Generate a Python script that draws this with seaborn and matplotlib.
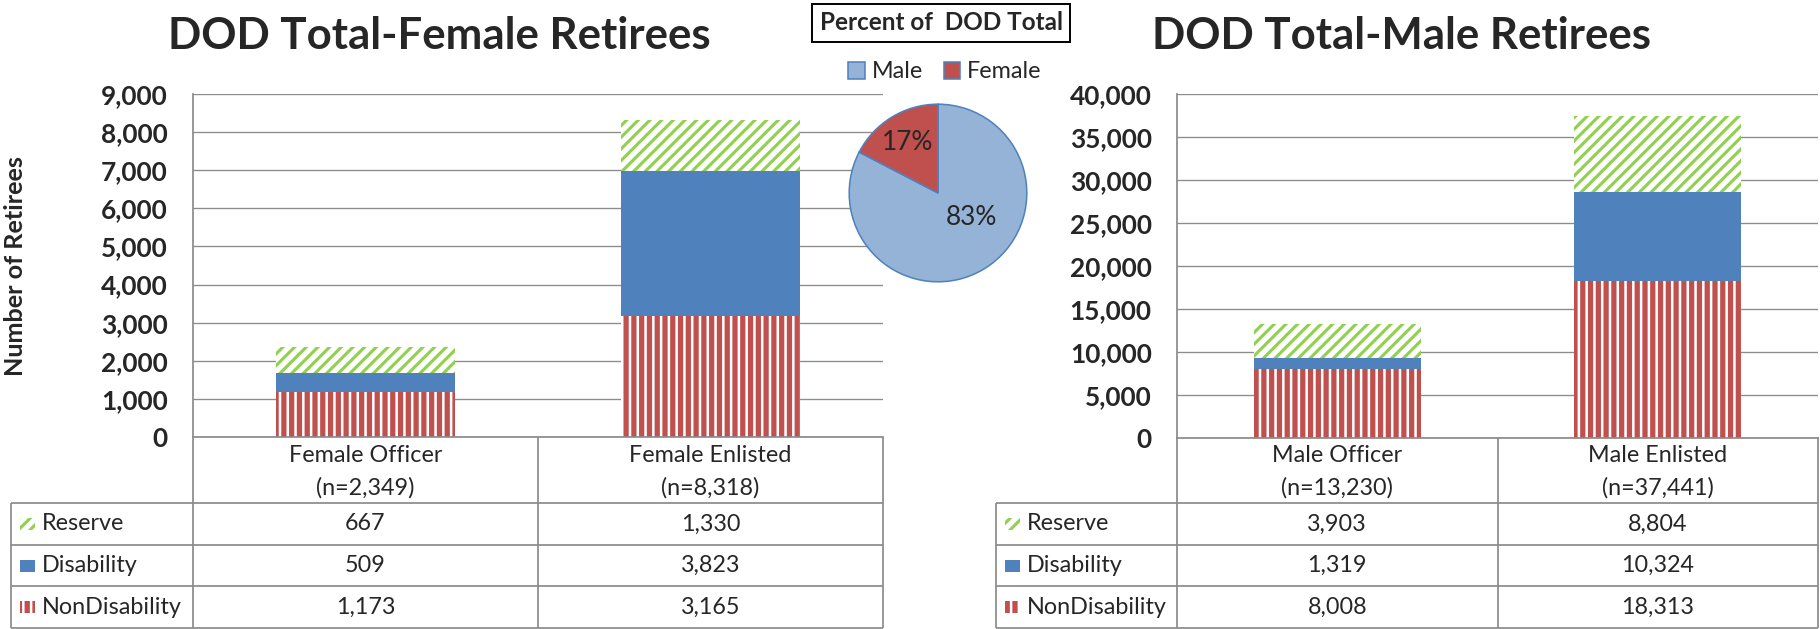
import numpy as np
import pandas as pd
import matplotlib
matplotlib.use("Agg")
import matplotlib.pyplot as plt
from matplotlib.patches import Rectangle
import seaborn as sns

# ---- values ----
female_groups = ["Female Officer", "Female Enlisted"]
female_reserve = [667, 1330]
female_disability = [509, 3823]
female_nondisability = [1173, 3165]

male_groups = ["Male Officer", "Male Enlisted"]
male_reserve = [3903, 8804]
male_disability = [1319, 10324]
male_nondisability = [8008, 18313]

female_yticks = [0, 1000, 2000, 3000, 4000, 5000, 6000, 7000, 8000, 9000]
male_yticks = [0, 5000, 10000, 15000, 20000, 25000, 30000, 35000, 40000]

pie_labels = ["Male", "Female"]
row_order = ["Reserve", "Disability", "NonDisability"]     # table rows
stack_order = ["NonDisability", "Disability", "Reserve"]   # bottom -> top

# ---- look ----
W, H, DPI = 1820, 629, 140
GRID = "#8c8c8c"
STYLES = {
    "NonDisability": dict(face="white", edge="#C0504D", hatch="|||", hlw=2.7),
    "Disability": dict(face="#4F81BD", edge="#4F81BD", hatch=None, hlw=1.0),
    "Reserve": dict(face="white", edge="#92D050", hatch="////", hlw=1.6),
}
TXT = 12

sns.set_style("white")
plt.rcParams["font.family"] = ["Lato", "DejaVu Sans"]

fig = plt.figure(figsize=(W / DPI, H / DPI), dpi=DPI)


def box(x0, y0, x1, y1):
    # pixel box (top-left origin) -> figure fraction rect
    return [x0 / W, 1 - y1 / H, (x1 - x0) / W, (y1 - y0) / H]


def set_hlw(patch, lw):
    if hasattr(patch, "set_hatch_linewidth"):
        patch.set_hatch_linewidth(lw)


# overlay in pixel coordinates for titles and the data tables
ov = fig.add_axes([0, 0, 1, 1])
ov.set_xlim(0, W)
ov.set_ylim(H, 0)
ov.axis("off")


def draw_panel(ax, groups, values, yticks, x_left, x_spine, x_right, title, title_x):
    df = pd.DataFrame({"group": groups, **values})
    bottom = np.zeros(len(groups))
    for status in stack_order:
        st = STYLES[status]
        n0 = len(ax.patches)
        with plt.rc_context({"hatch.linewidth": st["hlw"]}):
            sns.barplot(data=df, x="group", y=status, ax=ax, color=st["face"],
                        saturation=1, width=0.52, errorbar=None,
                        edgecolor=st["edge"], hatch=st["hatch"], linewidth=0,
                        bottom=bottom)
        for p in ax.patches[n0:]:
            set_hlw(p, st["hlw"])
        bottom = bottom + df[status].to_numpy()

    ax.set_xlim(-0.5, len(groups) - 0.5)
    ax.set_ylim(yticks[0], yticks[-1])
    ax.set_yticks(yticks)
    ax.set_yticklabels([f"{t:,}" for t in yticks], fontweight="bold", fontsize=13.5)
    ax.tick_params(axis="y", length=0, pad=13)
    ax.tick_params(axis="x", length=0, labelbottom=False)
    ax.yaxis.grid(True, color=GRID, lw=0.7)
    ax.set_axisbelow(True)
    ax.set_xlabel("")
    ax.set_ylabel("")
    for s in ["top", "right"]:
        ax.spines[s].set_visible(False)
    for s in ["left", "bottom"]:
        ax.spines[s].set_color(GRID)
        ax.spines[s].set_linewidth(0.9)

    ov.text(title_x, 36, title, ha="center", va="center", fontsize=22.5,
            fontweight="bold")

    # data table under the plot
    totals = bottom.astype(int)
    x_mid = (x_spine + x_right) / 2
    centers = [(x_spine + x_mid) / 2, (x_mid + x_right) / 2]
    lk = dict(color=GRID, lw=0.9, solid_capstyle="butt")
    for y in [503, 545, 586, 628]:
        ov.plot([x_left, x_right], [y, y], **lk)
    ov.plot([x_left, x_left], [503, 628], **lk)
    for x in [x_spine, x_mid, x_right]:
        ov.plot([x, x], [437, 628], **lk)

    for c, g, n in zip(centers, groups, totals):
        ov.text(c, 456, g, ha="center", va="center", fontsize=TXT)
        ov.text(c, 488, f"(n={n:,})", ha="center", va="center", fontsize=TXT)

    for status, ym in zip(row_order, [524, 565.5, 607]):
        st = STYLES[status]
        key = Rectangle((x_left + 9, ym - 6), 15, 12, facecolor=st["face"],
                        edgecolor=st["edge"], hatch=st["hatch"], linewidth=0)
        set_hlw(key, st["hlw"])
        ov.add_patch(key)
        ov.text(x_left + 31, ym, status, ha="left", va="center", fontsize=TXT)
        for c, v in zip(centers, values[status]):
            ov.text(c, ym, f"{v:,}", ha="center", va="center", fontsize=TXT)


ax_f = fig.add_axes(box(193, 94, 883, 437))
draw_panel(ax_f, female_groups,
           {"Reserve": female_reserve, "Disability": female_disability,
            "NonDisability": female_nondisability},
           female_yticks, 11, 193, 883, "DOD Total-Female Retirees", 439)

ax_m = fig.add_axes(box(1177, 94, 1818, 438))
draw_panel(ax_m, male_groups,
           {"Reserve": male_reserve, "Disability": male_disability,
            "NonDisability": male_nondisability},
           male_yticks, 996, 1177, 1818, "DOD Total-Male Retirees", 1402)

ov.text(16, 266, "Number of Retirees", rotation=90, ha="center", va="center",
        fontsize=13, fontweight="bold")

# ---- pie: share of all retirees ----
male_total = sum(male_reserve) + sum(male_disability) + sum(male_nondisability)
female_total = sum(female_reserve) + sum(female_disability) + sum(female_nondisability)

ax_p = fig.add_axes(box(827, 82, 1049, 304))
wedges, _, pct = ax_p.pie([male_total, female_total],
                          colors=["#95B3D7", "#C0504D"], startangle=90,
                          counterclock=False, autopct=lambda p: f"{p:.0f}%",
                          pctdistance=0.67,
                          wedgeprops=dict(edgecolor="#4F81BD", linewidth=0.8),
                          textprops=dict(fontsize=13.5))
ax_p.set_xlim(-1.25, 1.25)
ax_p.set_ylim(-1.25, 1.25)
pct[0].set_position((0.38, -0.28))
ax_p.legend(wedges, pie_labels, loc="center", ncol=2, frameon=False,
            bbox_to_anchor=(945 / W, 1 - 72 / H), bbox_transform=fig.transFigure,
            fontsize=12, handlelength=0.7, handleheight=0.7,
            handletextpad=0.3, columnspacing=0.9)

ov.text(941, 23, "Percent of  DOD Total", ha="center", va="center",
        fontsize=12.5, fontweight="bold",
        bbox=dict(boxstyle="square,pad=0.3", facecolor="white",
                  edgecolor="black", linewidth=1.0))

fig.savefig("out.png", dpi=DPI)
